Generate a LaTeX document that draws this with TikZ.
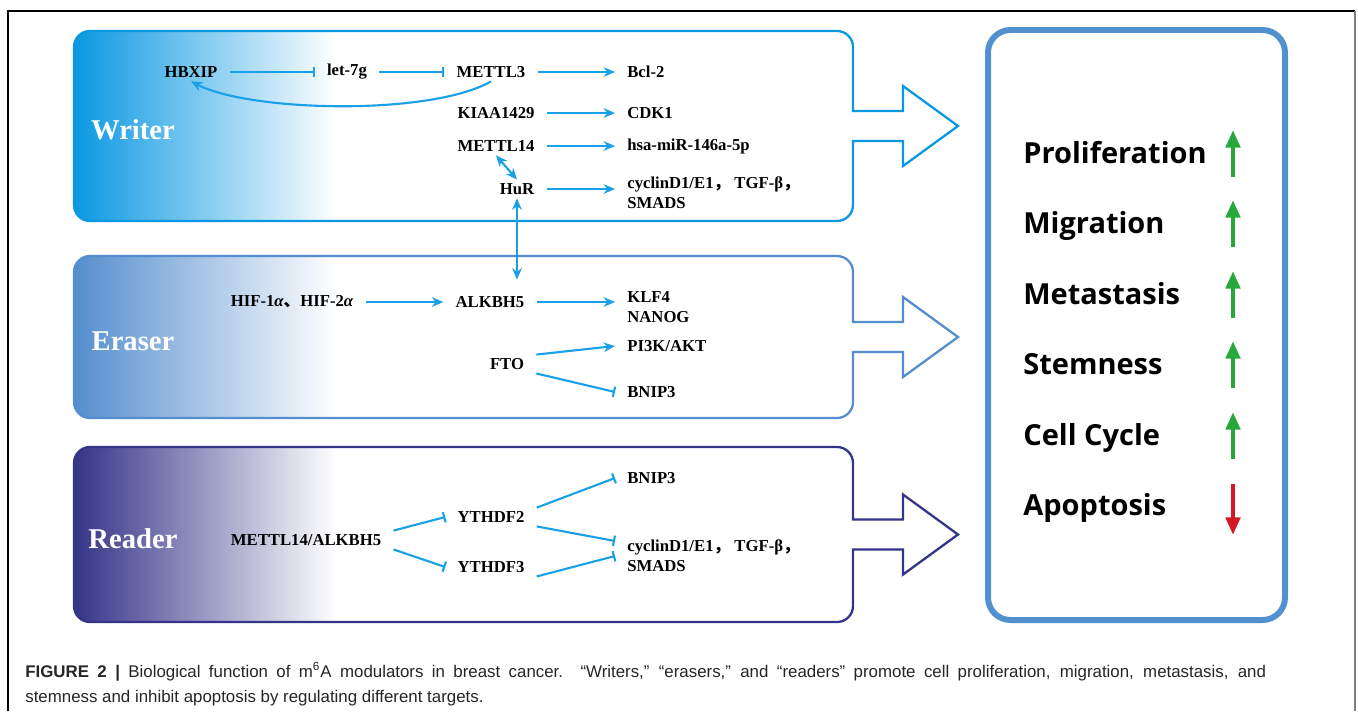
\documentclass[tikz,border=0pt]{standalone}
\usepackage{fontspec}
\setmainfont{Liberation Serif}
\setsansfont{Liberation Sans}
\newfontfamily\cjkfont{Noto Sans CJK SC}
\newfontfamily\boxfont{Open Sans}
\usetikzlibrary{arrows.meta}

\definecolor{wrcol}{RGB}{10,152,226}
\definecolor{ercol}{RGB}{85,142,206}
\definecolor{rdcol}{RGB}{52,52,136}
\definecolor{linkblue}{RGB}{25,160,230}
\definecolor{boxblue}{RGB}{82,145,208}
\definecolor{upgreen}{RGB}{40,168,60}
\definecolor{downred}{RGB}{212,24,36}

\tikzset{
  gene/.style={font=\fontsize{9.5}{11.3}\selectfont\bfseries, inner xsep=0.24cm, inner ysep=0.07cm},
  act/.style={draw=linkblue, line width=1.2pt, -{Stealth[length=6.5pt,width=5.5pt]}},
  inh/.style={draw=linkblue, line width=1.2pt, -{Bar[width=6pt]}},
  both/.style={draw=linkblue, line width=1.2pt, {Stealth[length=6.5pt,width=5.5pt]}-{Stealth[length=6.5pt,width=5.5pt]}},
  modlabel/.style={text=white, font=\fontsize{16.3}{18}\selectfont\bfseries},
  outcome/.style={font=\boxfont\fontsize{16.5}{18}\selectfont\bfseries, anchor=base west, inner sep=0pt},
  trend/.style={line width=2.5pt, -{Triangle[length=10pt,width=8pt]}},
  capt/.style={font=\sffamily\fontsize{9.6}{12}\selectfont, anchor=base west, inner sep=0pt, text=black!85},
}

\begin{document}
\begin{tikzpicture}[x=0.02cm, y=0.02cm]
\useasboundingbox (0,0) rectangle (1358,-711);
\fill[white] (0,0) rectangle (1358,-711);
\draw[line width=0.6pt] (8,-711) -- (8,-11) -- (1355,-11);
\draw[line width=0.6pt, gray] (1355,-11) -- (1355,-711);

% modules: writer, eraser, reader
\foreach \tp/\bt/\col/\lab in {31/221/wrcol/Writer, 256/418/ercol/Eraser, 447/622/rdcol/Reader}{
  \pgfmathsetmacro{\m}{(\tp+\bt)/2}
  \begin{scope}
    \clip[rounded corners=0.32cm] (74,-\tp) rectangle (853,-\bt);
    \shade[left color=\col, right color=white] (74,-\tp) rectangle (336,-\bt);
  \end{scope}
  \draw[\col, line width=1.3pt] (90,-\tp) -- (837,-\tp) arc[start angle=90, end angle=0, radius=0.32cm]
    -- (853,-\m+15) -- (903,-\m+15) -- (903,-\m+40) -- (958,-\m) -- (903,-\m-40) -- (903,-\m-15) -- (853,-\m-15)
    -- (853,-\bt+16) arc[start angle=0, end angle=-90, radius=0.32cm]
    -- (90,-\bt) arc[start angle=270, end angle=180, radius=0.32cm]
    -- (74,-\tp-16) arc[start angle=180, end angle=90, radius=0.32cm] -- cycle;
  \node[modlabel] (\lab) at (133,-\m-4) {\lab};
}

% writer
\node[gene] (hbxip) at (191,-72) {HBXIP};
\node[gene] (let) at (347,-72) {let-7g};
\node[gene] (mettl3) at (491,-72) {METTL3};
\node[gene, anchor=west] (bcl) at (615,-72) {Bcl-2};
\node[gene] (kiaa) at (496,-113) {KIAA1429};
\node[gene, anchor=west] (cdk) at (615,-113) {CDK1};
\node[gene] (mettl14) at (496,-146) {METTL14};
\node[gene, anchor=west] (mir) at (615,-146) {hsa-miR-146a-5p};
\node[gene] (hur) at (517,-189) {HuR};
\node[gene, anchor=west, align=left] (cycw) at (615,-193) {cyclinD1/E1{\cjkfont ，} TGF-β{\cjkfont ，}\\SMADS};

\draw[inh] (hbxip) -- (let);
\draw[inh] (let) -- (mettl3);
\draw[act] (mettl3) -- (bcl);
\draw[act] (kiaa) -- (cdk);
\draw[act] (mettl14) -- (mir);
\draw[act] (hur.east) -- (hur.east -| cycw.west);
\draw[act] (mettl3.south) .. controls (430,-116) and (250,-112) .. (hbxip.south);
\draw[both] (mettl14.south) -- (hur.north);

% eraser
\node[gene] (hif) at (292,-302) {HIF-1{\itshape α}{\cjkfont 、}HIF-2{\itshape α}};
\node[gene] (alk) at (490,-302) {ALKBH5};
\node[gene, anchor=west, align=left] (klf) at (615,-307) {KLF4\\NANOG};
\node[gene] (fto) at (507,-364) {FTO};
\node[gene, anchor=west] (pik) at (615,-346) {PI3K/AKT};
\node[gene, anchor=west] (bnipe) at (615,-392) {BNIP3};

\draw[both, shorten >=0.26cm] (hur.south) -- (hur.south |- alk.north);
\draw[act] (hif) -- (alk);
\draw[act] (alk) -- (alk -| klf.west);
\draw[act] (fto.north east) -- (pik.west);
\draw[inh] (fto.south east) -- (bnipe.west);

% reader
\node[gene] (ml) at (306,-540) {METTL14/ALKBH5};
\node[gene] (y2) at (491,-517) {YTHDF2};
\node[gene] (y3) at (491,-567) {YTHDF3};
\node[gene, anchor=west] (bnipr) at (615,-478) {BNIP3};
\node[gene, anchor=west, align=left] (cycr) at (615,-556) {cyclinD1/E1{\cjkfont ，} TGF-β{\cjkfont ，}\\SMADS};

\draw[inh] (ml.north east) -- (y2.west);
\draw[inh] (ml.south east) -- (y3.west);
\draw[inh] (y2.north east) -- (bnipr.west);
\draw[inh] (y2.south east) -- ([yshift=0.3cm]cycr.west);
\draw[inh] (y3.south east) -- (cycr.west);

% outcomes
\draw[boxblue, line width=3.4pt, rounded corners=0.45cm] (988,-30) rectangle (1285,-620);
\foreach \name/\y in {Proliferation/153, Migration/223, Metastasis/294, Stemness/364, Cell Cycle/435}{
  \node[outcome] (out\y) at (1023,-\y-10) {\name};
  \draw[trend, upgreen] (1233,-\y-24) -- (1233,-\y+23);
}
\node[outcome] (apop) at (1023,-515) {Apoptosis};
\draw[trend, downred] (1233,-484) -- (1233,-535);

% caption
\node[capt] (cap1) at (25,-677) {\makebox[24.82cm][s]{\textbf{FIGURE 2 |} Biological function of m\textsuperscript{6}A modulators in breast cancer. “Writers,” “erasers,” and “readers” promote cell proliferation, migration, metastasis, and}};
\node[capt] (cap2) at (25,-702) {stemness and inhibit apoptosis by regulating different targets.};
\end{tikzpicture}
\end{document}
